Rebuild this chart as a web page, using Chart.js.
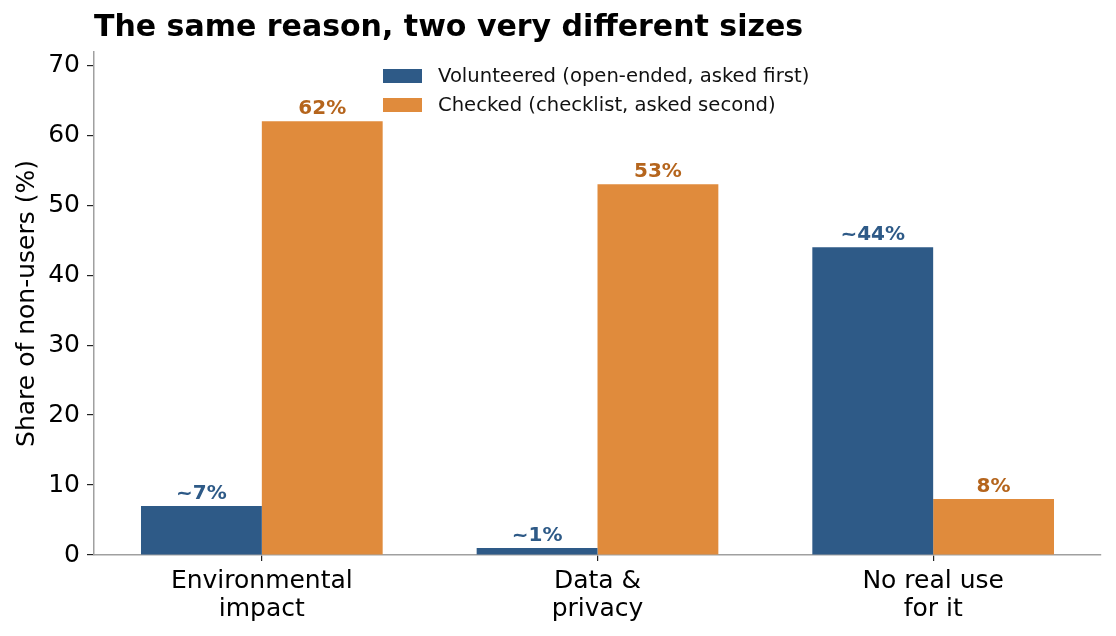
<!doctype html>
<html>
<head>
    <title>The same reason, two very different sizes</title>
    <script src="https://cdn.jsdelivr.net/npm/chart.js"></script>
    <style>
        body { margin: 0; background: #fff; }
        #wrap { width: 1116px; height: 636px; }
    </style>
</head>
<body>
    <div id="wrap"><canvas id="myChart" width="1116" height="636"></canvas></div>

    <script>
        var categories = [['Environmental', 'impact'], ['Data &', 'privacy'], ['No real use', 'for it']];
        var seriesNames = ['Volunteered (open-ended, asked first)', 'Checked (checklist, asked second)'];
        var volunteered = [7, 1, 44];
        var checked = [62, 53, 8];
        var volunteeredLabels = ['~7%', '~1%', '~44%'];
        var checkedLabels = ['62%', '53%', '8%'];
        var yTicks = [0, 10, 20, 30, 40, 50, 60, 70];

        var blue = '#2e5a87';
        var orange = '#e08b3c';
        var labelColors = ['#2e5a87', '#b5651d'];
        var FONT = "'DejaVu Sans', sans-serif";

        // title, legend in the plot and value labels above bars
        var extras = {
            id: 'extras',
            afterDraw: function(chart) {
                var ctx = chart.ctx;
                var area = chart.chartArea;
                ctx.save();

                ctx.fillStyle = '#000';
                ctx.font = 'bold 30px ' + FONT;
                ctx.textAlign = 'left';
                ctx.textBaseline = 'middle';
                ctx.fillText('The same reason, two very different sizes', area.left, 28);

                var texts = [volunteeredLabels, checkedLabels];
                ctx.font = 'bold 20px ' + FONT;
                ctx.textAlign = 'center';
                ctx.textBaseline = 'alphabetic';
                chart.data.datasets.forEach(function(ds, i) {
                    chart.getDatasetMeta(i).data.forEach(function(bar, j) {
                        ctx.fillStyle = labelColors[i];
                        ctx.fillText(texts[i][j], bar.x, bar.y - 7);
                    });
                });

                var lx = area.left + 289;
                var ly = area.top + 24;
                ctx.font = '19.6px ' + FONT;
                ctx.textAlign = 'left';
                ctx.textBaseline = 'middle';
                [blue, orange].forEach(function(c, i) {
                    var y = ly + i * 29;
                    ctx.fillStyle = c;
                    ctx.fillRect(lx, y - 7, 39, 14);
                    ctx.fillStyle = '#111';
                    ctx.fillText(seriesNames[i], lx + 55, y + 1);
                });
                ctx.restore();
            }
        };

        var ctx = document.getElementById('myChart').getContext('2d');
        var chart = new Chart(ctx, {
            type: 'bar',
            data: {
                labels: categories,
                datasets: [{
                    label: seriesNames[0],
                    data: volunteered,
                    backgroundColor: blue,
                    categoryPercentage: 0.72,
                    barPercentage: 1
                }, {
                    label: seriesNames[1],
                    data: checked,
                    backgroundColor: orange,
                    categoryPercentage: 0.72,
                    barPercentage: 1
                }]
            },
            options: {
                responsive: false,
                animation: false,
                layout: { padding: { left: 0, top: 52, right: 15, bottom: 0 } },
                plugins: {
                    legend: { display: false },
                    tooltip: { enabled: false }
                },
                scales: {
                    x: {
                        afterFit: function(scale) { scale.height = 81; },
                        grid: { offset: false, drawOnChartArea: false, drawTicks: true, tickLength: 6, color: '#222', lineWidth: 1.2 },
                        border: { color: '#a0a0a0', width: 1.5 },
                        ticks: { color: '#000', padding: 6, maxRotation: 0, font: { family: FONT, size: 25, lineHeight: 1.12 } }
                    },
                    y: {
                        min: 0,
                        max: 71.9,
                        afterFit: function(scale) { scale.width = 94; },
                        afterBuildTicks: function(scale) {
                            scale.ticks = yTicks.map(function(v) { return { value: v }; });
                        },
                        grid: { drawOnChartArea: false, drawTicks: true, tickLength: 7, color: '#222', lineWidth: 1.2 },
                        border: { color: '#a0a0a0', width: 1.5 },
                        ticks: { color: '#000', padding: 7, font: { family: FONT, size: 25 } },
                        title: {
                            display: true,
                            text: 'Share of non-users (%)',
                            color: '#000',
                            padding: { top: 12, bottom: 0 },
                            font: { family: FONT, size: 25, lineHeight: 1.2 }
                        }
                    }
                }
            },
            plugins: [extras]
        });
    </script>
</body>
</html>
